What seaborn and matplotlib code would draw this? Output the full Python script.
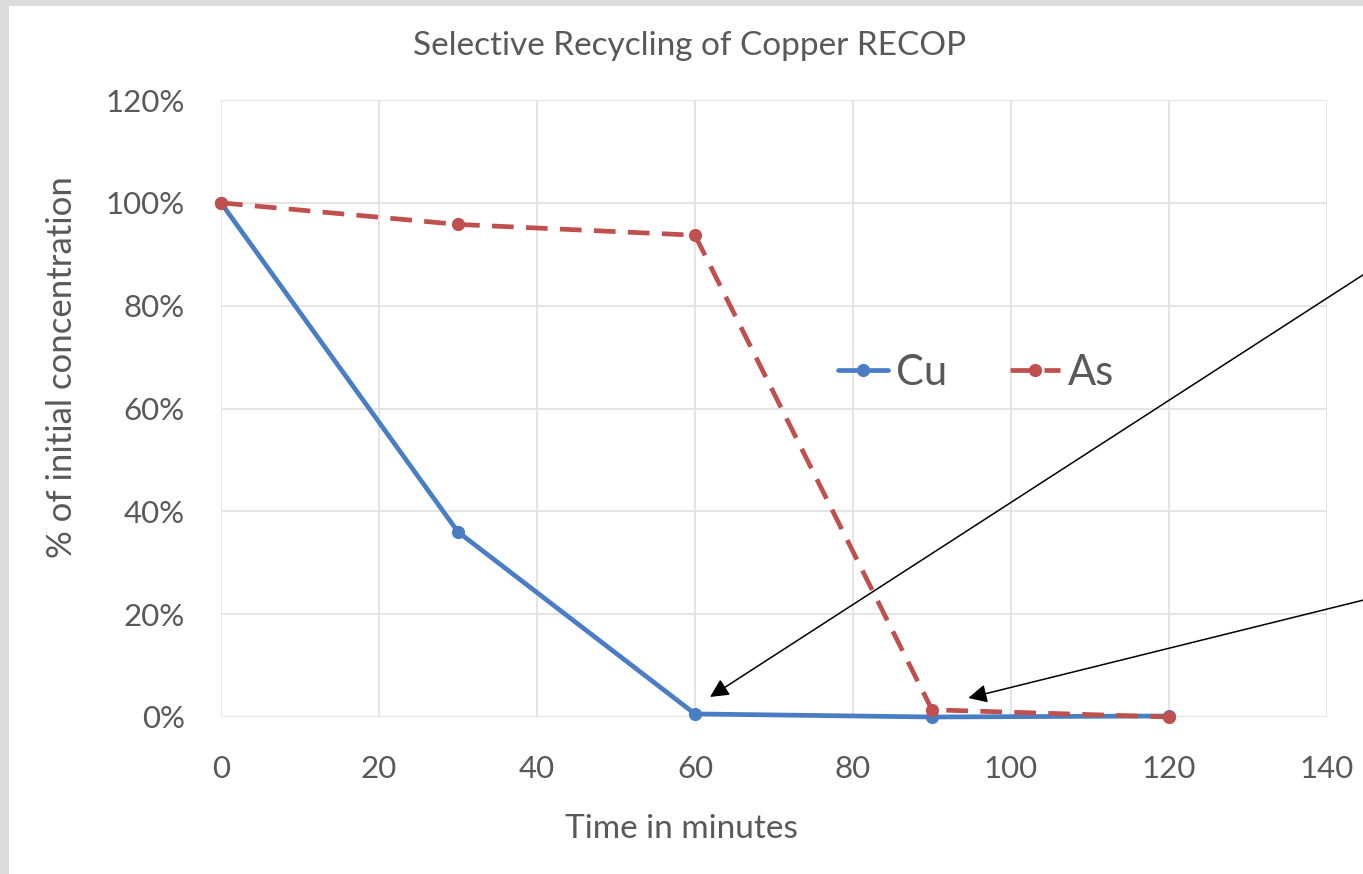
import matplotlib
matplotlib.use('Agg')
from matplotlib import pyplot as plt
from matplotlib.patches import Rectangle
from matplotlib.ticker import PercentFormatter
import numpy as np
import pandas as pd
import seaborn as sns

# data
minutes = [0, 30, 60, 90, 120]
cu = [1.00, 0.36, 0.006, 0.0, 0.002]
as_ = [1.00, 0.958, 0.937, 0.014, 0.0]

title = 'Selective Recycling of Copper RECOP'
xlabel = 'Time in minutes'
ylabel = '% of initial concentration'

sns.set_theme(style='whitegrid')
plt.rcParams['font.family'] = ['Lato', 'DejaVu Sans']

blue = '#4A7EC4'
red = '#C0504D'
grey_txt = '#595959'

fig = plt.figure(figsize=(13.63, 8.74), dpi=100)
fig.patch.set_facecolor('#DCDCDC')
fig.patches.append(Rectangle((9 / 1363, 0), 1, 868 / 874, transform=fig.transFigure,
                             facecolor='white', edgecolor='none', zorder=-5))

ax = fig.add_axes([221 / 1363, 1 - 717 / 874, 1106 / 1363, 617 / 874])
ax.set_facecolor('white')

df = pd.DataFrame({'minutes': minutes, 'Cu': cu, 'As': as_})
sns.lineplot(data=df, x='minutes', y='Cu', ax=ax, color=blue, lw=3.4,
             marker='o', markersize=9.5, markeredgewidth=0, label='Cu', zorder=3)
sns.lineplot(data=df, x='minutes', y='As', ax=ax, color=red, lw=3.4,
             marker='o', markersize=9.5, markeredgewidth=0, label='As', zorder=4)
ax.lines[1].set_linestyle((0, (4.6, 2.6)))
for ln in ax.lines:
    ln.set_clip_on(False)

ax.set_xlim(0, 140)
ax.set_ylim(0, 1.2)
ax.set_xticks(np.arange(0, 141, 20))
ax.set_yticks(np.arange(0, 1.21, 0.2))
ax.yaxis.set_major_formatter(PercentFormatter(1.0, decimals=0))
ax.grid(True, color='#E3E3E3', lw=1.3)
for s in ax.spines.values():
    s.set_visible(False)
ax.tick_params(axis='both', labelsize=22.5, labelcolor=grey_txt, length=0)
ax.tick_params(axis='x', pad=27)
ax.tick_params(axis='y', pad=26)

ax.set_xlabel('')
ax.set_ylabel('')
fig.text(681 / 1363, 1 - 829 / 874, xlabel, fontsize=24, color=grey_txt,
         ha='center', va='center')
fig.text(62 / 1363, 1 - 367 / 874, ylabel, fontsize=25, color=grey_txt,
         ha='center', va='center', rotation=90)
fig.text(690 / 1363, 1 - 46 / 874, title, fontsize=24, color=grey_txt,
         ha='center', va='center')

leg = ax.legend(loc='center', bbox_to_anchor=(976 / 1363, 1 - 373 / 874),
                bbox_transform=fig.transFigure, frameon=False, ncol=2,
                fontsize=30, handlelength=1.2, handletextpad=0.2,
                columnspacing=1.5, labelcolor=grey_txt)

# arrows coming from outside the right edge
ax.annotate('', xy=(61.9, 0.039), xycoords='data', xytext=(1400, 623),
            textcoords='figure pixels', annotation_clip=False,
            arrowprops=dict(arrowstyle='-|>', color='black', lw=1.1,
                            mutation_scale=28, shrinkA=0, shrinkB=0))
ax.annotate('', xy=(94.6, 0.037), xycoords='data', xytext=(1400, 283),
            textcoords='figure pixels', annotation_clip=False,
            arrowprops=dict(arrowstyle='-|>', color='black', lw=1.1,
                            mutation_scale=28, shrinkA=0, shrinkB=0))

fig.savefig('out.png', dpi=100, facecolor=fig.get_facecolor())
